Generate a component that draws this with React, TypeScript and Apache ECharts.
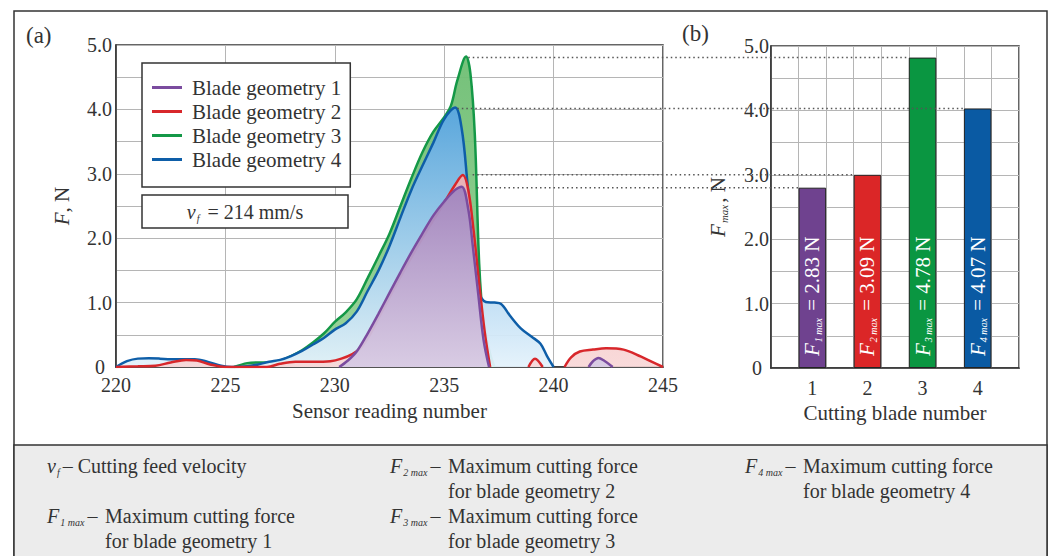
import React, { useEffect, useRef } from 'react';
import * as echarts from 'echarts';

const FONT = '"Liberation Serif", "Times New Roman", Times, serif';
const TEXT = '#333333';

// ---------- (a) force signal per blade geometry: [sensor reading number, F (N)] ----------
const seriesNames = ['Blade geometry 1', 'Blade geometry 2', 'Blade geometry 3', 'Blade geometry 4'];
const lineColors = ['#7b4c9f', '#d8272b', '#149847', '#0e5ea8'];

const blade1: (number | null)[][] = [
  [230.2, 0], [230.6, 0.1], [231, 0.24], [231.5, 0.52], [232, 0.83], [232.5, 1.15], [233, 1.47],
  [233.5, 1.78], [234, 2.07], [234.5, 2.35], [235, 2.57], [235.5, 2.75], [235.8, 2.8], [236.1, 2.45],
  [236.3, 1.9], [236.55, 1.15], [236.8, 0.42], [237.05, 0], [237.5, null],
  [241.6, 0], [241.8, 0.09], [242.05, 0.14], [242.3, 0.1], [242.7, 0],
];

const blade2: (number | null)[][] = [
  [220, 0], [221, 0.01], [221.8, 0.02], [222.5, 0.07], [223.2, 0.11], [223.7, 0.1], [224.3, 0.04],
  [225, 0], [226, 0], [226.9, 0], [227.5, 0.05], [228.2, 0.08], [229, 0.08], [229.8, 0.09],
  [230.3, 0.13], [230.8, 0.2], [231.2, 0.3], [231.6, 0.5], [232, 0.76], [233, 1.4], [234, 2.0],
  [234.5, 2.28], [235, 2.55], [235.5, 2.83], [235.85, 2.98], [236.1, 2.75], [236.35, 2.1],
  [236.6, 1.3], [236.85, 0.55], [237.1, 0], [237.5, null],
  [238.85, 0], [239.15, 0.13], [239.5, 0], [239.8, null],
  [240.5, 0], [240.8, 0.15], [241.2, 0.24], [241.8, 0.27], [242.4, 0.29], [243.2, 0.27],
  [244, 0.16], [244.5, 0.08], [245, 0],
];

const blade3: (number | null)[][] = [
  [225.4, 0], [226, 0.06], [226.5, 0.07], [227, 0.07], [227.5, 0.1], [228, 0.17], [228.5, 0.26],
  [229, 0.38], [229.5, 0.52], [230, 0.7], [230.5, 0.85], [231, 1.05], [231.5, 1.38], [232, 1.72],
  [232.5, 2.07], [233, 2.5], [233.5, 2.93], [234, 3.33], [234.5, 3.65], [235, 3.88], [235.3, 4.05],
  [235.6, 4.45], [236.0, 4.82], [236.2, 4.55], [236.4, 3.6], [236.6, 1.6], [236.8, 0.7],
  [237.1, 0.2], [237.3, 0],
];

const blade4: (number | null)[][] = [
  [220, 0], [220.5, 0.09], [221, 0.13], [221.5, 0.135], [222, 0.13], [222.5, 0.12], [223, 0.12],
  [223.6, 0.12], [224.2, 0.08], [224.8, 0.02], [225.3, 0], [226, 0.01], [226.5, 0.04], [227, 0.08],
  [227.5, 0.11], [228, 0.17], [228.5, 0.25], [229, 0.35], [229.5, 0.45], [230, 0.58], [230.5, 0.68],
  [231, 0.86], [231.5, 1.18], [232, 1.5], [232.5, 1.88], [233, 2.32], [233.5, 2.75], [234, 3.12],
  [234.5, 3.48], [235, 3.85], [235.5, 4.03], [235.8, 3.7], [236.05, 2.9], [236.3, 1.9],
  [236.6, 1.15], [236.9, 1.01], [237.3, 1.0], [237.6, 0.98], [238, 0.8], [238.5, 0.6],
  [239, 0.47], [239.4, 0.36], [239.7, 0.17], [240, 0],
];

const xTicks = [220, 225, 230, 235, 240, 245];
const yTicks = [0, 1, 2, 3, 4, 5];

// ---------- (b) maximum force per cutting blade ----------
const bladeNumbers = ['1', '2', '3', '4'];
const peakForce = [2.8, 3.0, 4.82, 4.03];
const peakLabels = ['2.83', '3.09', '4.78', '4.07'];
const barColors = ['#6f428f', '#db2627', '#0a9641', '#0a5aa3'];
// sensor reading where each dotted guide leaves the peak in (a)
const guideStart = [236.5, 236.3, 236.1, 235.6];

// bar slots: one empty slot on each side of every blade
const slotNames: string[] = [];
const slotBlade: number[] = [];
bladeNumbers.forEach((b, i) => {
  slotNames.push('s' + i, b);
  slotBlade.push(-1, i);
});
slotNames.push('s' + bladeNumbers.length);
slotBlade.push(-1);

const areaFills = [
  ['rgba(160,132,190,0.95)', 'rgba(215,203,228,0.95)'],
  ['rgba(243,176,176,0.9)', 'rgba(248,214,214,0.9)'],
  ['rgba(110,190,115,0.95)', 'rgba(150,210,150,0.95)'],
  ['rgba(88,165,225,0.95)', 'rgba(228,242,251,0.95)'],
];

const yFmt = (v: number) =>
  Math.abs(v - Math.round(v)) < 1e-9 ? (v === 0 ? '{z|0}' : v.toFixed(1)) : '';

function lineSeries(i: number, data: (number | null)[][], z: number) {
  return {
    name: seriesNames[i],
    type: 'line',
    xAxisIndex: 0,
    yAxisIndex: 0,
    data,
    smooth: 0.35,
    symbol: 'none',
    showSymbol: false,
    connectNulls: false,
    z,
    lineStyle: { color: lineColors[i], width: 2.5 },
    itemStyle: { color: lineColors[i] },
    areaStyle: {
      color: new echarts.graphic.LinearGradient(0, 0, 0, 1, [
        { offset: 0, color: areaFills[i][0] },
        { offset: 1, color: areaFills[i][1] },
      ]),
      opacity: 1,
    },
  };
}

const axisLabelStyle = {
  fontFamily: FONT, fontSize: 20, color: TEXT,
  rich: { z: { fontFamily: FONT, fontSize: 20, color: TEXT, padding: [0, 7, 0, 0] } },
};

function buildOption() {
  const barData = slotBlade.map((k) =>
    k < 0 ? '-' : { value: peakForce[k], itemStyle: { color: barColors[k] } }
  );
  return {
    animation: false,
    backgroundColor: '#ffffff',
    textStyle: { fontFamily: FONT },
    grid: [
      { left: 116, top: 45, width: 547, height: 322, show: true, borderColor: '#333', borderWidth: 1.5, backgroundColor: '#fff' },
      { left: 771, top: 46, width: 248, height: 322, show: true, borderColor: '#333', borderWidth: 1.5, backgroundColor: '#fff' },
    ],
    legend: {
      data: seriesNames,
      orient: 'vertical',
      left: 142,
      top: 63,
      padding: [14, 9, 17, 10],
      icon: 'rect',
      itemWidth: 30,
      itemHeight: 3,
      itemGap: 3,
      borderColor: '#333',
      borderWidth: 1.5,
      backgroundColor: '#fff',
      selectedMode: false,
      textStyle: { fontFamily: FONT, fontSize: 21, color: TEXT, lineHeight: 20, height: 20, padding: [0, 0, 0, 5] },
    },
    xAxis: [
      {
        type: 'value', gridIndex: 0, min: xTicks[0], max: xTicks[xTicks.length - 1], interval: xTicks[1] - xTicks[0],
        axisLine: { show: true, lineStyle: { color: '#333', width: 1.5 } },
        axisTick: { show: false },
        axisLabel: { ...axisLabelStyle, margin: 8 },
        splitLine: { show: true, lineStyle: { color: '#b5b5b5', width: 1 } },
        name: 'Sensor reading number', nameLocation: 'middle', nameGap: 33,
        nameTextStyle: { fontFamily: FONT, fontSize: 21, color: TEXT },
      },
      {
        type: 'category', gridIndex: 1, data: slotNames, boundaryGap: true,
        axisLine: { show: true, lineStyle: { color: '#333', width: 1.5 } },
        axisTick: { show: false },
        axisLabel: { ...axisLabelStyle, margin: 10, interval: 0, formatter: (n: string) => (n.startsWith('s') ? '' : n) },
        splitLine: { show: true, interval: 0, lineStyle: { color: '#b5b5b5', width: 1 } },
        name: 'Cutting blade number', nameLocation: 'middle', nameGap: 34,
        nameTextStyle: { fontFamily: FONT, fontSize: 21, color: TEXT },
      },
    ],
    yAxis: [
      {
        type: 'value', gridIndex: 0, min: yTicks[0], max: yTicks[yTicks.length - 1], interval: 0.5,
        axisLine: { show: true, lineStyle: { color: '#333', width: 1.5 } },
        axisTick: { show: false },
        axisLabel: { ...axisLabelStyle, margin: 4, formatter: yFmt },
        splitLine: { show: true, lineStyle: { color: '#b5b5b5', width: 1 } },
        name: '{i|F}, N', nameLocation: 'middle', nameGap: 44, nameRotate: 90,
        nameTextStyle: {
          fontFamily: FONT, fontSize: 21, color: TEXT,
          rich: { i: { fontFamily: FONT, fontSize: 21, fontStyle: 'italic', color: TEXT } },
        },
      },
      {
        type: 'value', gridIndex: 1, min: yTicks[0], max: yTicks[yTicks.length - 1], interval: 0.5,
        axisLine: { show: true, lineStyle: { color: '#333', width: 1.5 } },
        axisTick: { show: false },
        axisLabel: { ...axisLabelStyle, margin: 2, formatter: yFmt },
        splitLine: { show: true, lineStyle: { color: '#b5b5b5', width: 1 } },
        name: '{i|F}{s|max}{t|, N}', nameLocation: 'middle', nameGap: 42, nameRotate: 90,
        nameTextStyle: {
          fontFamily: FONT, fontSize: 21, color: TEXT,
          rich: {
            i: { fontFamily: FONT, fontSize: 21, fontStyle: 'italic', color: TEXT, lineHeight: 22 },
            s: { fontFamily: FONT, fontSize: 11, fontStyle: 'italic', color: TEXT, verticalAlign: 'bottom', lineHeight: 12, padding: [0, 2, 0, 1] },
            t: { fontFamily: FONT, fontSize: 21, color: TEXT, lineHeight: 22 },
          },
        },
      },
    ],
    series: [
      lineSeries(2, blade3, 2),
      lineSeries(3, blade4, 3),
      lineSeries(1, blade2, 4),
      lineSeries(0, blade1, 5),
      {
        name: 'Fmax',
        type: 'bar',
        xAxisIndex: 1,
        yAxisIndex: 1,
        barWidth: '100%',
        data: barData,
        itemStyle: { borderColor: '#222', borderWidth: 1 },
        label: {
          show: true,
          position: 'insideBottom',
          rotate: 90,
          align: 'left',
          verticalAlign: 'middle',
          distance: 12,
          formatter: (p: any) => {
            const k = slotBlade[p.dataIndex];
            return `{f|F}{s|${k + 1} max}{t| = ${peakLabels[k]} N}`;
          },
          rich: {
            f: { fontFamily: FONT, fontSize: 21, fontStyle: 'italic', color: '#fff', lineHeight: 22 },
            s: { fontFamily: FONT, fontSize: 10, fontStyle: 'italic', color: '#fff', verticalAlign: 'bottom', lineHeight: 12, padding: [0, 2, 0, 1] },
            t: { fontFamily: FONT, fontSize: 21, color: '#fff', lineHeight: 22 },
          },
        },
      },
    ],
  };
}

const richDef = {
  f: { fontFamily: FONT, fontSize: 20, fontStyle: 'italic', fill: TEXT, color: TEXT, lineHeight: 22 },
  s: { fontFamily: FONT, fontSize: 10, fontStyle: 'italic', fill: TEXT, color: TEXT, verticalAlign: 'bottom', lineHeight: 12, padding: [0, 3, 0, 1] },
  t: { fontFamily: FONT, fontSize: 20, fill: TEXT, color: TEXT, lineHeight: 22 },
  p: { fontFamily: FONT, fontSize: 23, fill: TEXT, color: TEXT, lineHeight: 24 },
};

function richText(x: number, y: number, text: string, align = 'left') {
  return {
    type: 'text', x, y, z: 30, silent: true,
    style: { text, rich: richDef, fontFamily: FONT, fontSize: 20, fill: TEXT, align, verticalAlign: 'middle' },
  };
}

// explanation block: symbol part at x, description starting 58px to its right
function explain(x: number, y: number, sym: string, k: number) {
  return [
    richText(x, y, `{f|F}{s|${sym}}{t|– }`),
    richText(x + 58, y, '{t|Maximum cutting force}'),
    richText(x + 58, y + 25, `{t|for blade geometry ${k}}`),
  ];
}

function staticGraphics() {
  return [
    { type: 'rect', z: 1, silent: true, shape: { x: 14, y: 11, width: 1033, height: 560 }, style: { fill: 'none', stroke: '#333', lineWidth: 1.5 } },
    { type: 'rect', z: 1, silent: true, shape: { x: 14, y: 445, width: 1033, height: 130 }, style: { fill: '#ececec', stroke: '#333', lineWidth: 1.5 } },
    richText(26, 35, '{p|(a)}'),
    richText(682, 33, '{p|(b)}'),
    { type: 'rect', z: 20, silent: true, shape: { x: 142, y: 195, width: 206, height: 33 }, style: { fill: '#fff', stroke: '#333', lineWidth: 1.5 } },
    richText(245, 212, '{f|v}{s|f}{t| = 214 mm/s}', 'center'),
    richText(47, 466, '{f|v}{s|f}{t|– Cutting feed velocity}'),
    ...explain(390, 466, '2 max', 2),
    ...explain(47, 516, '1 max', 1),
    ...explain(390, 516, '3 max', 3),
    ...explain(745, 466, '4 max', 4),
  ];
}

export default function App() {
  const ref = useRef<HTMLDivElement>(null);
  useEffect(() => {
    if (!ref.current) return;
    const chart = echarts.init(ref.current, null, { renderer: 'svg' });
    chart.setOption(buildOption() as any);
    const guides = peakForce.map((v, i) => {
      const p1 = chart.convertToPixel({ gridIndex: 0 } as any, [guideStart[i], v]) as number[];
      const c = chart.convertToPixel({ gridIndex: 1 } as any, [2 * i + 1, v]) as number[];
      const c0 = chart.convertToPixel({ gridIndex: 1 } as any, [0, v]) as number[];
      const c1 = chart.convertToPixel({ gridIndex: 1 } as any, [1, v]) as number[];
      const half = (c1[0] - c0[0]) / 2;
      return {
        type: 'line', z: 40, silent: true,
        shape: { x1: p1[0], y1: c[1], x2: c[0] - half, y2: c[1] },
        style: { stroke: '#555', lineWidth: 1.5, lineDash: [1.5, 3] },
      };
    });
    chart.setOption({ graphic: [...staticGraphics(), ...guides] } as any);
    return () => chart.dispose();
  }, []);
  return <div ref={ref} style={{ position: 'fixed', left: 0, top: 0, width: 1051, height: 556 }} />;
}
